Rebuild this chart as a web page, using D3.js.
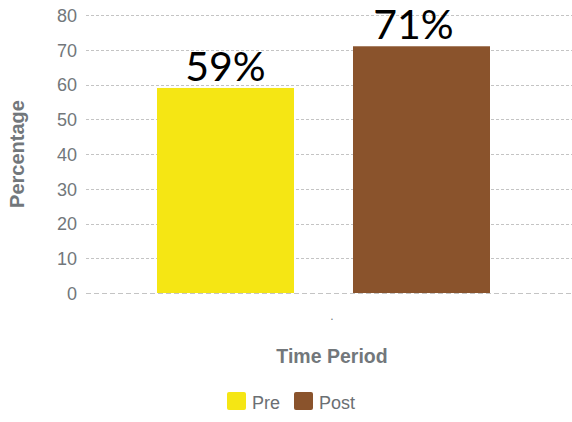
<!DOCTYPE html>
<html>
<head>
<meta charset="utf-8">
<script src="https://cdn.jsdelivr.net/npm/d3@7/dist/d3.min.js"></script>
<style>
  html, body { margin: 0; padding: 0; background: #fff; }
  svg { display: block; }
</style>
</head>
<body>
<svg id="chart" width="572" height="422"></svg>
<script>
// Chart data
const categories = ["."];
const seriesNames = ["Pre", "Post"];
const seriesValues = [59, 71];
const seriesColors = ["#f5e614", "#8a532c"];
const yTicks = [0, 10, 20, 30, 40, 50, 60, 70, 80];

const svg = d3.select("#chart");
const W = 572, H = 422;
const plotLeft = 86, plotRight = 578, plotTop = 15, plotBottom = 293;

const y = d3.scaleLinear().domain([0, 80]).range([plotBottom, plotTop]);
const x0 = d3.scaleBand().domain(categories).range([plotLeft, plotRight]).padding(0);
const x1 = d3.scaleBand().domain(seriesNames)
  .range([x0(".") + 71, x0(".") + 404]).paddingInner(0.301).paddingOuter(0);

const axisColor = "#72777b";
const font = "'Liberation Sans', Arial, sans-serif";

// Gridlines
const grid = svg.append("g");
grid.selectAll("line").data(yTicks).join("line")
  .attr("x1", plotLeft).attr("x2", W)
  .attr("y1", d => Math.round(y(d)) + 0.5).attr("y2", d => Math.round(y(d)) + 0.5)
  .attr("stroke", "#c4c4c4").attr("stroke-width", 1)
  .attr("stroke-dasharray", d => d === 0 ? "5,3" : "3,2");

// Y tick labels via axis
const yAxis = svg.append("g")
  .attr("transform", `translate(${plotLeft - 9},0)`)
  .call(d3.axisLeft(y).tickValues(yTicks).tickSize(0).tickPadding(0));
yAxis.select(".domain").remove();
yAxis.selectAll("text")
  .attr("fill", axisColor).attr("font-family", font).attr("font-size", 18)
  .attr("dy", "0.35em");

// Y title
svg.append("text")
  .attr("transform", `translate(24,154) rotate(-90)`)
  .attr("text-anchor", "middle")
  .attr("font-family", font).attr("font-weight", "bold").attr("font-size", 20)
  .attr("fill", axisColor).text("Percentage");

// Bars
const data = seriesNames.map((s, i) => ({ s, v: seriesValues[i], c: seriesColors[i] }));
svg.append("g").selectAll("rect").data(data).join("rect")
  .attr("x", d => x1(d.s)).attr("width", x1.bandwidth())
  .attr("y", d => y(d.v)).attr("height", d => y(0) - y(d.v))
  .attr("fill", d => d.c);

// Value labels (the Post label sits slightly left of its bar centre)
const labelNudge = [0, -8];
svg.append("g").selectAll("text").data(data).join("text")
  .attr("x", (d, i) => x1(d.s) + x1.bandwidth() / 2 + labelNudge[i])
  .attr("y", d => y(d.v) - 7)
  .attr("text-anchor", "middle")
  .attr("font-family", "Lato, 'Open Sans', sans-serif")
  .attr("font-size", 41).attr("fill", "#000")
  .text(d => d.v + "%");

// X category axis
const xAxis = svg.append("g")
  .attr("transform", `translate(0,${plotBottom + 10})`)
  .call(d3.axisBottom(x0).tickSize(0).tickPadding(8));
xAxis.select(".domain").remove();
xAxis.selectAll("text").attr("fill", axisColor).attr("font-family", font).attr("font-size", 12);

// X title
svg.append("text")
  .attr("x", (plotLeft + plotRight) / 2).attr("y", 363)
  .attr("text-anchor", "middle")
  .attr("font-family", font).attr("font-weight", "bold").attr("font-size", 19.5)
  .attr("fill", axisColor).text("Time Period");

// Legend
const legendX = [227, 294];
const legend = svg.append("g").selectAll("g").data(data).join("g")
  .attr("transform", (d, i) => `translate(${legendX[i]},392)`);
legend.append("rect")
  .attr("width", 19).attr("height", 18).attr("rx", 2)
  .attr("fill", d => d.c);
legend.append("text")
  .attr("x", 25).attr("y", 17)
  .attr("font-family", font).attr("font-size", 18)
  .attr("fill", "#6b6f73").text(d => d.s);
</script>
</body>
</html>
